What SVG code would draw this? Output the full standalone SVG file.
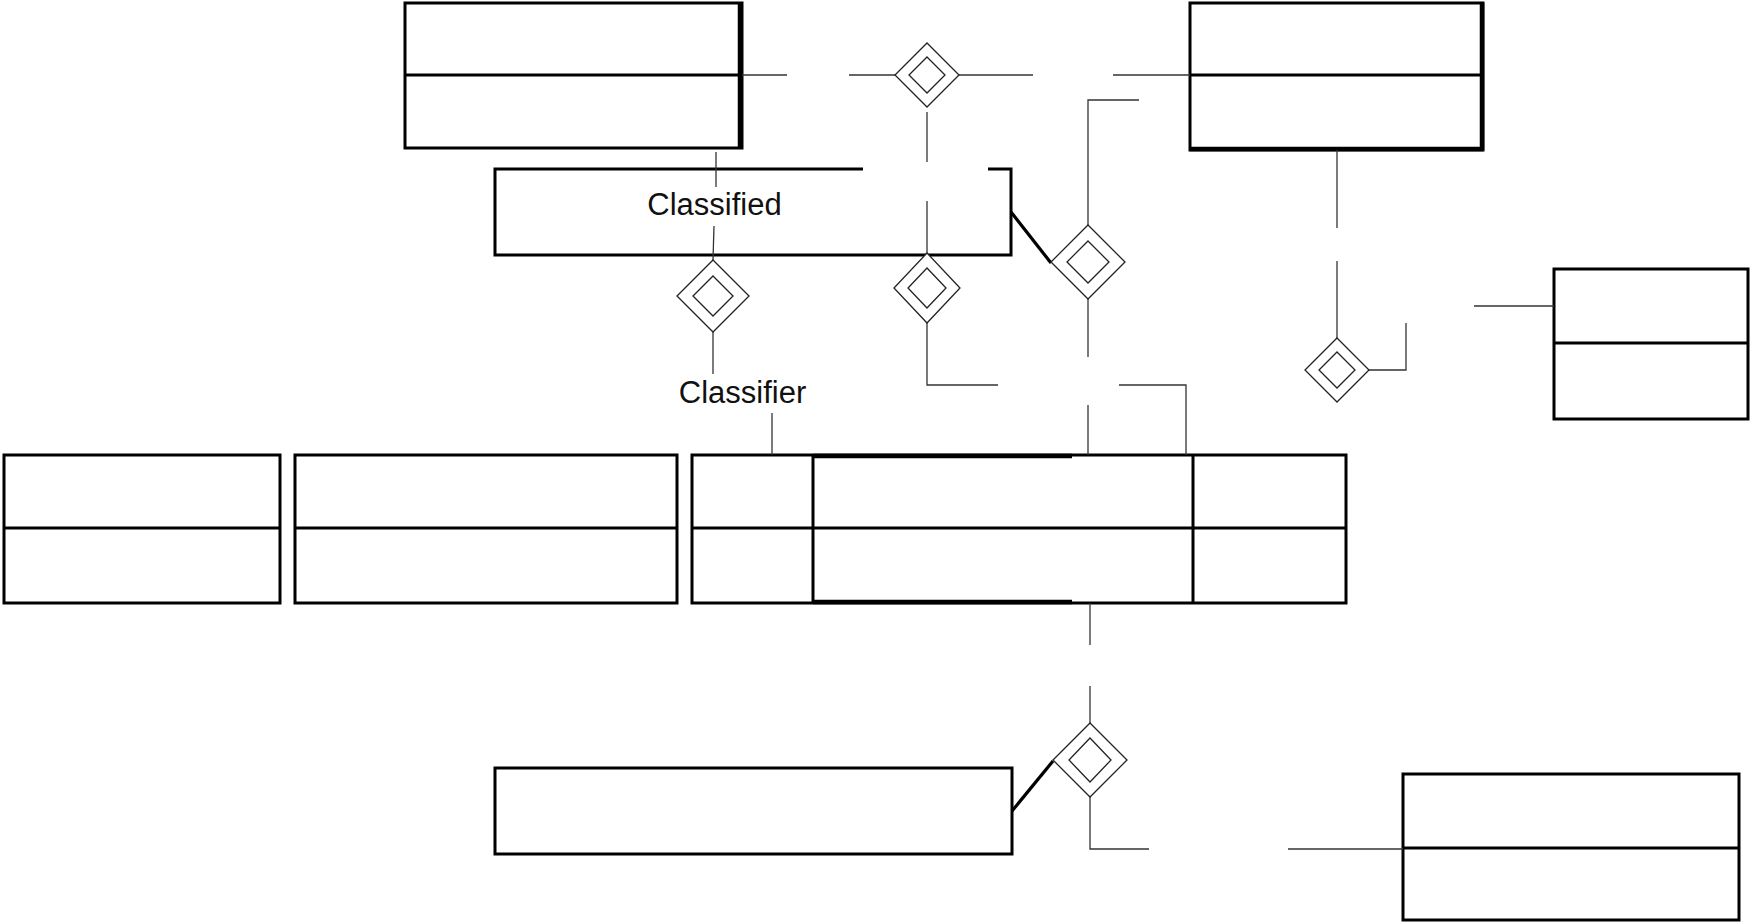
<svg xmlns="http://www.w3.org/2000/svg" width="1751" height="922" viewBox="0 0 1751 922">
  <style>
    .box { fill: #fff; stroke: #000; stroke-width: 3; }
    .sep { stroke: #000; stroke-width: 3; }
    .heavy { stroke: #000; stroke-width: 4.5; fill: none; }
    .conn { fill: none; stroke: #333; stroke-width: 1.3; }
    .link { fill: none; stroke: #000; stroke-width: 3.2; }
    .dia { fill: #fff; stroke: #222; stroke-width: 1.3; }
    .lbl { font-family: "Liberation Sans", Arial, sans-serif; font-size: 31px; fill: #111; }
  </style>
  <rect width="1751" height="922" fill="#fff"/>

  <!-- class boxes -->
  <g id="class-top-left">
    <rect class="box" x="405" y="3" width="337" height="145"/>
    <line class="sep" x1="405" y1="75" x2="742" y2="75"/>
    <line class="heavy" x1="740" y1="3" x2="740" y2="148"/>
  </g>
  <g id="class-top-right">
    <rect class="box" x="1190" y="3" width="293" height="147"/>
    <line class="sep" x1="1190" y1="75" x2="1483" y2="75"/>
    <line class="heavy" x1="1190" y1="149" x2="1483" y2="149"/>
    <line class="heavy" x1="1482" y1="3" x2="1482" y2="150"/>
  </g>
  <g id="classified">
    <path class="box" d="M863,169 H495 V255 H1011 V169 H988"/>
  </g>
  <g id="class-right">
    <rect class="box" x="1554" y="269" width="194" height="150"/>
    <line class="sep" x1="1554" y1="343" x2="1748" y2="343"/>
  </g>
  <g id="class-a">
    <rect class="box" x="4" y="455" width="276" height="148"/>
    <line class="sep" x1="4" y1="528" x2="280" y2="528"/>
  </g>
  <g id="class-b">
    <rect class="box" x="295" y="455" width="382" height="148"/>
    <line class="sep" x1="295" y1="528" x2="677" y2="528"/>
  </g>
  <g id="class-table">
    <rect class="box" x="692" y="455" width="654" height="148"/>
    <line class="sep" x1="692" y1="528" x2="1346" y2="528"/>
    <line class="sep" x1="813" y1="455" x2="813" y2="603"/>
    <line class="sep" x1="1193" y1="455" x2="1193" y2="603"/>
    <line class="heavy" x1="813" y1="456" x2="1072" y2="456"/>
    <line class="heavy" x1="813" y1="602" x2="1072" y2="602"/>
  </g>
  <g id="class-bottom-center">
    <rect class="box" x="495" y="768" width="517" height="86"/>
  </g>
  <g id="class-bottom-right">
    <rect class="box" x="1403" y="774" width="336" height="146"/>
    <line class="sep" x1="1403" y1="848" x2="1739" y2="848"/>
  </g>

  <!-- associations and aggregation diamonds -->
  <g id="connectors">
    <path class="conn" d="M742,75 H787"/>
    <path class="conn" d="M849,75 H895"/>
    <path class="conn" d="M959,75 H1033"/>
    <path class="conn" d="M1113,75 H1190"/>
    <path class="conn" d="M927,112 V162"/>
    <path class="conn" d="M927,201 V253"/>
    <path class="conn" d="M927,323 V385 H998"/>
    <path class="conn" d="M716,152 L716,187"/>
    <path class="conn" d="M714,226 L713,260"/>
    <path class="conn" d="M713,332 V374"/>
    <path class="conn" d="M772,413 V455"/>
    <path class="link" d="M1011,212 L1051,263"/>
    <path class="conn" d="M1088,225 V100 H1139"/>
    <path class="conn" d="M1088,299 V357"/>
    <path class="conn" d="M1088,405 V455"/>
    <path class="conn" d="M1119,385 H1186 V455"/>
    <path class="conn" d="M1337,150 V228"/>
    <path class="conn" d="M1337,261 V338"/>
    <path class="conn" d="M1369,370 H1406 V323"/>
    <path class="conn" d="M1474,306 H1554"/>
    <path class="conn" d="M1090,603 V645"/>
    <path class="conn" d="M1090,686 V723"/>
    <path class="link" d="M1012,811 L1053,761"/>
    <path class="conn" d="M1090,797 V849 H1149"/>
    <path class="conn" d="M1288,849 H1403"/>

    <polygon class="dia" points="927,43 959,75 927,107 895,75"/>
    <polygon class="dia" points="927,57 945,75 927,93 909,75"/>

    <polygon class="dia" points="927,253 960,288 927,323 894,288"/>
    <polygon class="dia" points="927,268 946,288 927,308 908,288"/>

    <polygon class="dia" points="1088,225 1125,262 1088,299 1051,262"/>
    <polygon class="dia" points="1088,241 1109,262 1088,283 1067,262"/>

    <polygon class="dia" points="713,260 749,296 713,332 677,296"/>
    <polygon class="dia" points="713,276 733,296 713,316 693,296"/>

    <polygon class="dia" points="1090,723 1127,760 1090,797 1053,760"/>
    <polygon class="dia" points="1090,738 1111,760 1090,782 1069,760"/>

    <polygon class="dia" points="1337,338 1369,370 1337,402 1305,370"/>
    <polygon class="dia" points="1337,352 1355,370 1337,388 1319,370"/>
  </g>

  <g id="labels">
    <text class="lbl" x="714.5" y="215" text-anchor="middle">Classified</text>
    <text class="lbl" x="742.5" y="403" text-anchor="middle">Classifier</text>
  </g>
</svg>
